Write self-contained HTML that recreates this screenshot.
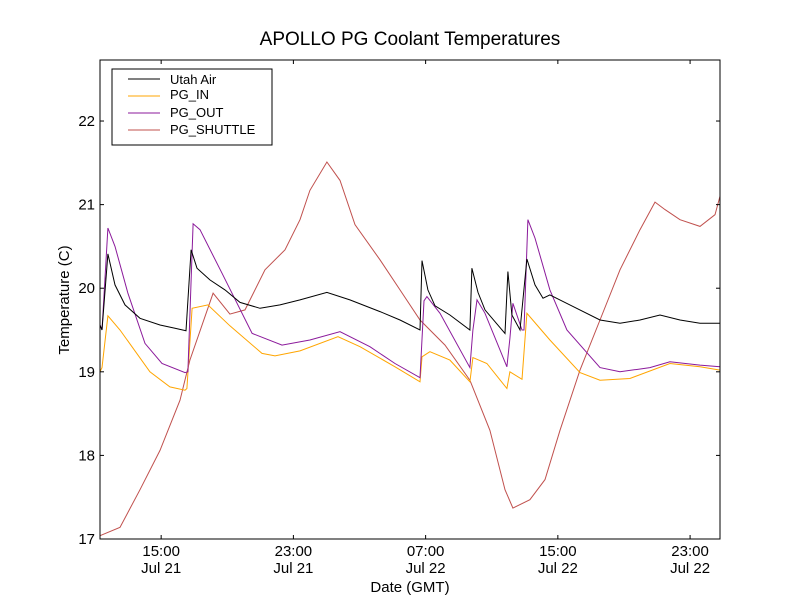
<!DOCTYPE html>
<html><head><meta charset="utf-8"><style>
body{margin:0;background:#fff;}
svg{display:block;font-family:"Liberation Sans","DejaVu Sans",sans-serif;}
</style></head><body>
<svg id="chart" width="800" height="600">
<rect width="800" height="600" fill="#fff"/>
<text x="410" y="45" font-size="19" text-anchor="middle">APOLLO PG Coolant Temperatures</text>
<g id="plot"></g>
<rect x="100" y="60" width="620" height="479" fill="none" stroke="#000" stroke-width="1"/>
<g id="axes"></g>
<text x="410" y="592" font-size="15" text-anchor="middle">Date (GMT)</text>
<text transform="translate(69,300) rotate(-90)" font-size="15" text-anchor="middle">Temperature (C)</text>
<g>
<rect x="112" y="69" width="160" height="76" fill="#fff" stroke="#000"/>
<line x1="128" y1="79" x2="160" y2="79" stroke="#000"/>
<text x="170" y="84" font-size="13">Utah Air</text>
<line x1="128" y1="96" x2="160" y2="96" stroke="#ffa500"/>
<text x="170" y="99" font-size="13">PG_IN</text>
<line x1="128" y1="113" x2="160" y2="113" stroke="#8b1a9b"/>
<text x="170" y="117" font-size="13">PG_OUT</text>
<line x1="128" y1="130" x2="160" y2="130" stroke="#c0504d"/>
<text x="170" y="134" font-size="13">PG_SHUTTLE</text>
</g>
</svg>
<script>
// hours since Jul 21 00:00 GMT
const airTimes=[11.30,11.42,11.78,12.21,12.81,13.72,14.93,15.84,16.50,16.81,17.17,17.95,18.86,19.77,20.98,22.19,23.40,25.03,26.42,28.24,29.45,30.66,30.78,31.14,31.57,32.47,33.68,33.80,34.17,34.59,35.80,35.98,36.22,36.71,37.13,37.62,38.10,38.52,39.73,41.55,42.76,43.97,45.18,46.39,47.60,48.81];
const airTemps=[19.56,19.50,20.41,20.04,19.80,19.64,19.56,19.52,19.49,20.46,20.24,20.10,19.98,19.83,19.76,19.80,19.86,19.95,19.86,19.72,19.62,19.50,20.33,19.98,19.79,19.68,19.50,20.24,19.95,19.74,19.46,20.20,19.68,19.50,20.35,20.04,19.88,19.92,19.80,19.62,19.58,19.62,19.68,19.62,19.58,19.58];
const inTimes=[11.30,11.42,11.78,12.51,14.32,15.53,16.44,16.56,16.87,17.83,19.16,21.10,21.89,23.40,25.70,27.03,29.15,30.66,30.78,31.26,32.47,33.68,33.86,34.71,35.92,36.10,36.83,37.13,38.52,40.34,41.55,43.36,45.78,47.60,48.81];
const inTemps=[19.00,19.05,19.67,19.50,19.00,18.82,18.78,18.80,19.76,19.80,19.55,19.22,19.19,19.25,19.42,19.30,19.06,18.88,19.18,19.24,19.14,18.88,19.17,19.10,18.80,19.00,18.91,19.70,19.38,18.99,18.90,18.92,19.10,19.06,19.02];
const outTimes=[11.30,11.42,11.78,12.21,12.99,14.02,15.05,16.44,16.62,16.93,17.35,18.68,20.50,22.31,24.00,25.82,27.63,29.15,30.66,30.90,31.08,31.87,33.68,33.86,34.11,34.59,35.92,36.10,36.28,36.83,36.95,37.19,37.62,38.52,39.55,41.55,42.76,44.57,45.78,47.60,48.81];
const outTemps=[19.56,19.50,20.72,20.50,19.94,19.34,19.10,18.99,19.00,20.77,20.70,20.18,19.46,19.32,19.38,19.48,19.30,19.10,18.93,19.85,19.90,19.70,19.05,19.50,19.86,19.70,19.06,19.40,19.82,19.50,19.50,20.82,20.60,19.98,19.50,19.05,19.00,19.05,19.12,19.08,19.06];
const shTimes=[11.30,12.51,13.72,14.93,16.14,16.74,18.14,19.16,20.07,21.28,22.49,23.40,24.00,25.03,25.82,26.73,28.24,29.45,30.66,32.17,33.68,34.89,35.80,36.28,37.31,38.22,39.13,40.34,41.55,42.76,43.97,44.88,45.48,46.39,47.60,48.51,48.81];
const shTemps=[17.04,17.14,17.59,18.06,18.66,19.14,19.94,19.69,19.74,20.22,20.46,20.82,21.17,21.51,21.29,20.76,20.34,19.98,19.62,19.32,18.90,18.30,17.59,17.37,17.47,17.71,18.30,19.02,19.62,20.22,20.70,21.03,20.94,20.82,20.74,20.88,21.10];
const xTicks=[15,23,31,39,47];
const xTickTimes=["15:00","23:00","07:00","15:00","23:00"];
const xTickDates=["Jul 21","Jul 21","Jul 22","Jul 22","Jul 22"];
const yTicks=[17,18,19,20,21,22];

const X0=11.30,X1=48.81,Y0=17,Y1=22.73;
const xs=h=>100+(h-X0)/(X1-X0)*620;
const ys=t=>539-(t-Y0)/(Y1-Y0)*479;
const NS="http://www.w3.org/2000/svg";
const plot=document.getElementById('plot');
function series(times,temps,color,name){
  const p=document.createElementNS(NS,'path');
  p.setAttribute('d',times.map((t,i)=>(i?'L':'M')+xs(t).toFixed(1)+','+ys(temps[i]).toFixed(1)).join(''));
  p.setAttribute('fill','none');p.setAttribute('stroke',color);p.setAttribute('stroke-width','1');
  
  
  plot.appendChild(p);
}
series(shTimes,shTemps,'#c0504d','pg-shuttle-line');
series(inTimes,inTemps,'#ffa500','pg-in-line');
series(outTimes,outTemps,'#8b1a9b','pg-out-line');
series(airTimes,airTemps,'#000','utah-air-line');
const axes=document.getElementById('axes');
function el(tag,attrs,txt){const e=document.createElementNS(NS,tag);for(const k in attrs)e.setAttribute(k,attrs[k]);if(txt)e.textContent=txt;axes.appendChild(e);return e;}
xTicks.forEach((h,i)=>{
  const x=xs(h);
  el('line',{x1:x,y1:539,x2:x,y2:535,stroke:'#000'});
  el('line',{x1:x,y1:60,x2:x,y2:64,stroke:'#000'});
  const a=el('text',{x:x,y:556,'font-size':15,'text-anchor':'middle'},xTickTimes[i]);
  
  
  const b=el('text',{x:x,y:573,'font-size':15,'text-anchor':'middle'},xTickDates[i]);
  
  
});
yTicks.forEach(t=>{
  const y=ys(t);
  el('line',{x1:100,y1:y,x2:104,y2:y,stroke:'#000'});
  el('line',{x1:720,y1:y,x2:716,y2:y,stroke:'#000'});
  const a=el('text',{x:95,y:y+5,'font-size':15,'text-anchor':'end'},String(t));
  
  
});
</script>
</body></html>
